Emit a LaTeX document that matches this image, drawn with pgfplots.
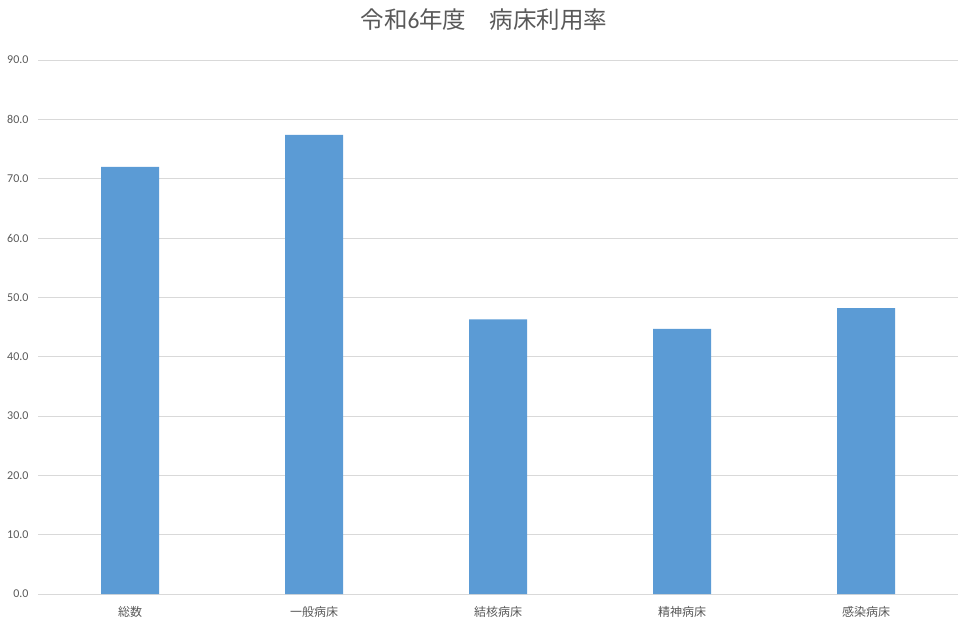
\documentclass[border=0pt]{standalone}
\usepackage{pgfplots}
\pgfplotsset{compat=1.18}
\usepackage{fontspec}
\setmainfont{Carlito}
\newfontfamily\cjk{Noto Sans CJK JP}
\definecolor{barblue}{HTML}{5B9BD5}
\definecolor{gridgray}{HTML}{D9D9D9}
\definecolor{txtgray}{HTML}{595959}
\begin{document}
\begin{tikzpicture}
\path[use as bounding box] (-38pt,-33pt) rectangle (930pt,594pt);
\begin{axis}[
  at={(0,0)}, anchor=south west,
  scale only axis, width=920pt, height=534pt,
  xmin=-0.5, xmax=4.5, ymin=0, ymax=90,
  ytick={0,10,...,90},
  xtick=data,
  xticklabels={{\cjk 総数},{\cjk 一般病床},{\cjk 結核病床},{\cjk 精神病床},{\cjk 感染病床}},
  yticklabel={\pgfmathprintnumber[fixed,fixed zerofill,precision=1]{\tick}},
  /pgf/number format/assume math mode=true,
  ymajorgrids, grid style={gridgray, line width=0.8pt},
  axis line style={draw=none},
  axis x line*=bottom,
  x axis line style={draw=gridgray, line width=0.8pt},
  major tick length=0pt,
  tick label style={font=\fontsize{12}{14}\selectfont, text=txtgray},
  yticklabel style={xshift=-6pt},
  xticklabel style={font=\fontsize{12}{14}\selectfont, text=txtgray, yshift=-9pt},
  ybar, bar width=58pt,
  title={\cjk 令和\fontspec{Carlito}6\cjk 年度　病床利用率},
  title style={font=\fontsize{23.5}{26}\selectfont, text=txtgray, at={(0.5,1)}, anchor=south, yshift=20pt, xshift=-14pt},
  clip=false,
]
\addplot[fill=barblue, draw=none] coordinates {(0,72.0) (1,77.4) (2,46.3) (3,44.7) (4,48.2)};
\end{axis}
\end{tikzpicture}
\end{document}
